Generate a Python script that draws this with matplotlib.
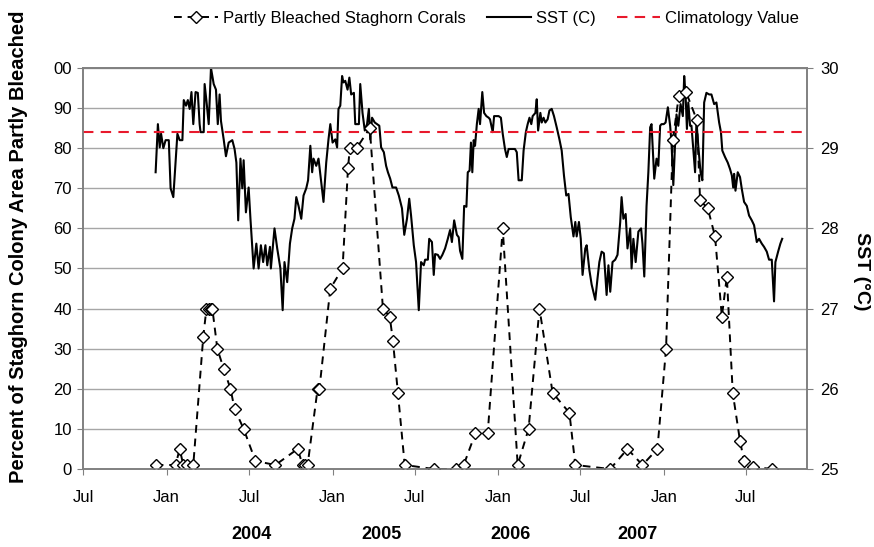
import numpy as np
import pandas as pd
import matplotlib
matplotlib.use("Agg")
import matplotlib.pyplot as plt
import matplotlib.dates as mdates

plt.rcParams['font.family'] = ['Liberation Sans', 'DejaVu Sans']

# bleaching surveys (percent of colony area partly bleached)
bleach_dates = ["2003-12-08", "2004-01-21", "2004-01-30", "2004-02-07", "2004-02-16", "2004-02-29",
                "2004-03-22", "2004-03-29", "2004-04-03", "2004-04-07", "2004-04-11", "2004-04-22",
                "2004-05-06", "2004-05-21", "2004-05-30", "2004-06-19", "2004-07-15", "2004-08-28",
                "2004-10-16", "2004-10-27", "2004-11-02", "2004-11-07", "2004-11-29", "2004-12-03",
                "2004-12-27", "2005-01-23", "2005-02-04", "2005-02-08", "2005-02-23", "2005-03-24",
                "2005-04-22", "2005-05-07", "2005-05-14", "2005-05-25", "2005-06-09", "2005-08-12",
                "2005-09-29", "2005-10-17", "2005-11-12", "2005-12-09", "2006-01-11", "2006-02-13",
                "2006-03-09", "2006-04-02", "2006-05-01", "2006-06-07", "2006-06-20", "2006-09-05",
                "2006-10-13", "2006-11-15", "2006-12-18", "2007-01-06", "2007-01-21", "2007-02-03",
                "2007-02-19", "2007-03-15", "2007-03-22", "2007-04-08", "2007-04-24", "2007-05-09",
                "2007-05-20", "2007-06-02", "2007-06-18", "2007-06-27", "2007-07-17", "2007-08-28"]
bleach_pct = [1, 1, 5, 1, 1, 1,
              33, 40, 40, 40, 40, 30,
              25, 20, 15, 10, 2, 1,
              5, 1, 1, 1, 20, 20,
              45, 50, 75, 80, 80, 85,
              40, 38, 32, 19, 1, 0,
              0, 1, 9, 9, 60, 1,
              10, 40, 19, 14, 1, 0,
              5, 1, 5, 30, 82, 93,
              94, 87, 67, 65, 58, 38,
              48, 19, 7, 2, 0.5, 0]

# SST record, days since 1 Jul 2003
sst_start = "2003-07-01"
sst_day = [160, 165, 169, 172, 177, 182, 189, 193, 199, 204, 208, 213, 219, 222, 227, 231, 235, 239,
           243, 248, 253, 257, 259, 266, 268, 272, 277, 282, 288, 293, 297, 301, 304, 310, 315, 321,
           329, 334, 338, 342, 347, 351, 354, 359, 365, 369, 376, 382, 387, 392, 397, 402, 406, 412,
           414, 422, 428, 435, 440, 444, 450, 456, 461, 466, 470, 475, 481, 486, 492, 496, 501,
           505, 508, 514, 519, 525, 530, 536, 541, 545, 550, 556, 560, 563, 567, 571, 574, 578, 583,
           587, 591, 597, 600, 608, 611, 616, 621, 626, 630, 633, 637, 643, 648, 653, 657, 663, 668,
           672, 677, 682, 690, 696, 703, 708, 714, 719, 723, 729, 734, 740, 745, 751, 754, 760, 763,
           769, 773, 776, 782, 787, 792, 798, 804, 809, 813, 818, 824, 828, 831, 836,
           840, 845, 848, 852, 855, 858, 861, 864, 868, 872, 875, 880, 884, 889, 894, 897, 903, 906,
           916, 921, 925, 930, 934, 938, 952, 956, 960, 967, 971, 976, 980, 984, 988, 991, 997, 1000,
           1003, 1008, 1011, 1015, 1019, 1024, 1028, 1033, 1038, 1044, 1050, 1055, 1060, 1065, 1070,
           1075, 1081, 1085, 1088, 1093, 1097, 1101, 1107, 1110, 1116, 1121, 1129, 1134, 1138, 1143,
           1148, 1154, 1158, 1162, 1167, 1173, 1178,
           1184, 1187, 1191, 1196, 1200, 1206, 1209, 1213, 1218, 1224, 1230, 1233, 1237, 1242, 1246,
           1250, 1253, 1259, 1264, 1268, 1272, 1275, 1280, 1284, 1289, 1294, 1297, 1301, 1305, 1308,
           1312, 1317, 1322, 1325, 1328, 1331, 1334, 1338, 1341, 1345, 1349, 1352, 1356, 1361, 1365,
           1369, 1374, 1380, 1385, 1391, 1396, 1402, 1406, 1409, 1415, 1421, 1426, 1430, 1433, 1435,
           1438, 1443, 1448, 1452, 1457, 1463, 1468, 1474, 1479, 1485, 1490, 1496, 1501, 1507, 1512,
           1518, 1523, 1526, 1532, 1537, 1541]
sst_c = [28.70, 29.30, 29.01, 29.18, 29.00, 29.10, 29.10, 28.50, 28.39, 28.82, 29.18, 29.10, 29.10, 29.60,
         29.53, 29.60, 29.49, 29.70, 29.30, 29.70, 29.69, 29.30, 29.20, 29.20, 29.80, 29.59, 29.30, 30.00,
         29.80, 29.73, 29.30, 29.67, 29.34, 29.11, 28.90, 29.07, 29.10, 28.99, 28.82, 28.10, 28.87, 28.50,
         28.85, 28.20, 28.51, 28.12, 27.50, 27.81, 27.50, 27.79, 27.58, 27.79, 27.54, 27.77, 27.50, 28.00,
         27.75, 27.50, 26.98, 27.58, 27.33, 27.81, 28.00, 28.12, 28.39, 28.28, 28.12, 28.41, 28.50, 28.60,
         29.03,
         28.70, 28.87, 28.78, 28.87, 28.58, 28.33, 28.82, 29.11, 29.30, 29.07, 29.11, 29.01, 29.49, 29.53,
         29.90, 29.82, 29.84, 29.73, 29.88, 29.67, 29.69, 29.30, 29.30, 29.80, 29.44, 29.22, 29.30, 29.49,
         29.11, 29.38, 29.32, 29.30, 29.28, 29.01, 28.95, 28.78, 28.70, 28.62, 28.51, 28.51, 28.41, 28.25,
         27.92, 28.12, 28.37, 28.16, 27.79, 27.58, 26.98, 27.58, 27.54, 27.61, 27.61, 27.87, 27.83, 27.42,
         27.68, 27.67, 27.62, 27.67, 27.75, 27.87, 27.98, 27.83, 28.10, 27.92, 27.89, 27.72, 27.62,
         28.28, 28.27, 28.70, 28.72, 29.07, 28.70, 29.10, 29.03, 29.30, 29.49, 29.30, 29.70, 29.44, 29.40,
         29.38, 29.36, 29.20, 29.40, 29.40, 29.38, 29.18, 28.99, 28.89, 28.99, 28.99, 28.95, 28.60, 28.60,
         28.97, 29.20, 29.30, 29.38, 29.30, 29.40, 29.44, 29.61, 29.22, 29.44, 29.32, 29.38, 29.32, 29.36,
         29.47, 29.49, 29.40, 29.26, 29.11, 28.97, 28.66, 28.41, 28.43, 28.14, 27.90, 28.08, 27.90, 28.08,
         27.87, 27.42, 27.75, 27.79, 27.48, 27.30, 27.11, 27.38, 27.58, 27.71, 27.69, 27.17, 27.54, 27.21,
         27.58, 27.61, 27.67,
         28.08, 28.39, 28.12, 28.18, 27.75, 28.00, 27.50, 27.87, 27.58, 27.96, 28.00, 27.81, 27.40, 28.28,
         28.70, 29.26, 29.30, 28.62, 28.87, 28.78, 29.28, 29.30, 29.30, 29.32, 29.51, 29.28, 29.07, 28.54,
         29.07, 29.42, 29.28, 29.55, 29.40, 29.90, 29.67, 29.24, 29.57, 29.28, 29.28, 28.99, 28.70, 29.34,
         29.03, 28.70, 28.60, 29.57, 29.69, 29.67, 29.67, 29.55, 29.57, 29.32, 29.20, 28.97, 28.89, 28.82,
         28.74, 28.66, 28.51, 28.68, 28.47, 28.70, 28.64, 28.49, 28.33, 28.28, 28.16, 28.10, 28.04, 27.83,
         27.87, 27.81, 27.77, 27.71, 27.61, 27.61, 27.09, 27.58, 27.71, 27.81, 27.87]

climatology_c = 29.2
pct_ticks = list(range(0, 101, 10))
pct_labels = [str(v) for v in pct_ticks[:-1]] + ["00"]
sst_ticks = [25, 26, 27, 28, 29, 30]
month_ticks = ["2003-07-01", "2004-01-01", "2004-07-01", "2005-01-01", "2005-07-01",
               "2006-01-01", "2006-07-01", "2007-01-01", "2007-07-01"]
month_labels = ["Jul", "Jan", "Jul", "Jan", "Jul", "Jan", "Jul", "Jan", "Jul"]
year_labels = ["2004", "2005", "2006", "2007"]

b_dates = pd.to_datetime(bleach_dates)
s_dates = pd.Timestamp(sst_start) + pd.to_timedelta(sst_day, unit="D")

fig = plt.figure(figsize=(8.74, 5.47), dpi=100)
ax = fig.add_axes([0.095, 0.1426, 0.828, 0.7331])
ax2 = ax.twinx()
ax.set_zorder(ax2.get_zorder() + 1)
ax.patch.set_visible(False)

grid_col = "#a6a6a6"
ax2.set_ylim(25, 30)
ax2.set_yticks(sst_ticks)
ax2.set_yticks(np.arange(25, 30.01, 0.5), minor=True)
ax2.tick_params(axis="y", which="minor", length=0)
ax2.grid(True, axis="y", which="both", color=grid_col, lw=1)
ax2.plot(s_dates, sst_c, color="black", lw=1.5, label="SST (C)")

clim, = ax.plot([pd.Timestamp("2003-07-01"), pd.Timestamp("2007-11-12")],
                [(climatology_c - 25) * 20] * 2, color="#e8192c", lw=1.5, label="Climatology Value")
clim.set_dashes((5, 3.5))
bl, = ax.plot(b_dates, bleach_pct, color="black", lw=1.4, marker="D", ms=6, mfc="white",
              mec="black", mew=1.0, label="Partly Bleached Staghorn Corals")
bl.set_dashes((4, 3))

ax.set_xlim(pd.Timestamp("2003-07-01"), pd.Timestamp("2007-11-12"))
ax.set_ylim(0, 100)
ax.set_yticks(pct_ticks)
ax.set_yticklabels(pct_labels)
ax.set_xticks(pd.to_datetime(month_ticks))
ax.set_xticklabels(month_labels)

for a in (ax, ax2):
    for s in a.spines.values():
        s.set_color("#808080")
        s.set_linewidth(1.2)
    a.tick_params(labelsize=12, colors="#808080", labelcolor="black", length=4)
ax.tick_params(axis="x", pad=11)
ax.tick_params(axis="y", pad=4)
ax2.tick_params(axis="y", pad=6)

fig.text(0.021, 0.548, "Percent of Staghorn Colony Area Partly Bleached", rotation=90,
         ha="center", va="center", fontsize=14.5, fontweight="bold")
fig.text(0.986, 0.505, "SST (°C)", rotation=-90, ha="center", va="center",
         fontsize=14, fontweight="bold")
for lab, xp in zip(year_labels, [0.288, 0.436, 0.584, 0.729]):
    fig.text(xp, 0.022, lab, ha="center", va="center", fontsize=13, fontweight="bold")

h = [bl, ax2.lines[0], clim]
fig.legend(h, [x.get_label() for x in h], loc="center", bbox_to_anchor=(0.557, 0.966),
           ncol=3, frameon=False, fontsize=12, handlelength=2.6, handletextpad=0.3,
           columnspacing=1.3)

fig.savefig("out.png", dpi=100)
